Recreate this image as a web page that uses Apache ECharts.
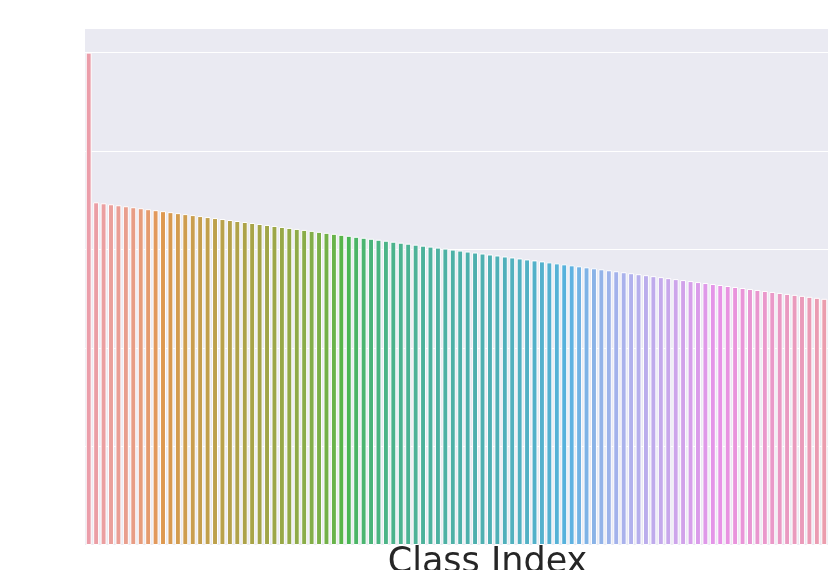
<!DOCTYPE html>
<html>
<head>
<meta charset="utf-8">
<script src="https://cdn.jsdelivr.net/npm/echarts@6/dist/echarts.min.js"></script>
<style>
html,body{margin:0;padding:0;background:#fff;}
#chart{width:830px;height:570px;}
</style>
</head>
<body>
<div id="chart"></div>
<script>
// ---- data ----
var categories = [
  '0','1','2','3','4','5','6','7','8','9',
  '10','11','12','13','14','15','16','17','18','19',
  '20','21','22','23','24','25','26','27','28','29',
  '30','31','32','33','34','35','36','37','38','39',
  '40','41','42','43','44','45','46','47','48','49',
  '50','51','52','53','54','55','56','57','58','59',
  '60','61','62','63','64','65','66','67','68','69',
  '70','71','72','73','74','75','76','77','78','79',
  '80','81','82','83','84','85','86','87','88','89',
  '90','91','92','93','94','95','96','97','98','99'
];
var values = [
  5.00,
  3.48,3.47,3.46,3.45,3.44,3.43,3.42,3.41,3.40,
  3.39,3.38,3.37,3.36,3.35,3.34,3.33,3.32,3.31,3.30,
  3.29,3.28,3.27,3.26,3.25,3.24,3.23,3.22,3.21,3.20,
  3.19,3.18,3.17,3.16,3.15,3.14,3.13,3.12,3.11,3.10,
  3.09,3.08,3.07,3.06,3.05,3.04,3.03,3.02,3.01,3.00,
  2.99,2.98,2.97,2.96,2.95,2.94,2.93,2.92,2.91,2.90,
  2.89,2.88,2.87,2.86,2.85,2.84,2.83,2.82,2.81,2.80,
  2.79,2.78,2.77,2.76,2.75,2.74,2.73,2.72,2.71,2.70,
  2.69,2.68,2.67,2.66,2.65,2.64,2.63,2.62,2.61,2.60,
  2.59,2.58,2.57,2.56,2.55,2.54,2.53,2.52,2.51,2.50
];
var xLabel = 'Class Index';

// ---- palette (seaborn-like husl, desaturated) ----
var M = [[3.2406,-1.5372,-0.4986],[-0.9689,1.8758,0.0415],[0.0557,-0.2040,1.0570]];
var refU = 0.19784, refV = 0.46834, labE = 0.008856, labK = 903.3;
function maxChroma(L, H) {
  var hr = H / 360 * 2 * Math.PI, sinH = Math.sin(hr), cosH = Math.cos(hr);
  var sub1 = Math.pow(L + 16, 3) / 1560896;
  var sub2 = sub1 > labE ? sub1 : L / labK;
  var result = Infinity;
  for (var i = 0; i < 3; i++) {
    var m1 = M[i][0], m2 = M[i][1], m3 = M[i][2];
    var top = (0.99915 * m1 + 1.05122 * m2 + 1.14460 * m3) * sub2;
    var rb = 0.86330 * m3 - 0.17266 * m2;
    var lb = 0.12949 * m3 - 0.38848 * m1;
    var bottom = (rb * sinH + lb * cosH) * sub2;
    for (var t = 0; t < 2; t++) {
      var C = L * (top - 1.05122 * t) / (bottom + 0.17266 * sinH * t);
      if (C > 0 && C < result) result = C;
    }
  }
  return result;
}
function fInv(t) { return Math.pow(t, 3) > labE ? Math.pow(t, 3) : (116 * t - 16) / labK; }
function fromLinear(c) { return c <= 0.0031308 ? 12.92 * c : 1.055 * Math.pow(c, 1 / 2.4) - 0.055; }
function huslToRgb(H, S, L) {
  var C = maxChroma(L, H) / 100 * S;
  var hr = H / 360 * 2 * Math.PI;
  var U = Math.cos(hr) * C, V = Math.sin(hr) * C;
  var varY = fInv((L + 16) / 116);
  var varU = U / (13 * L) + refU, varV = V / (13 * L) + refV;
  var Y = varY;
  var X = 0 - (9 * Y * varU) / ((varU - 4) * varV - varU * varV);
  var Z = (9 * Y - 15 * varV * Y - varV * X) / (3 * varV);
  var xyz = [X, Y, Z];
  return M.map(function (r) {
    var v = fromLinear(r[0] * xyz[0] + r[1] * xyz[1] + r[2] * xyz[2]);
    return Math.min(1, Math.max(0, v));
  });
}
function rgbToHls(r, g, b) {
  var mx = Math.max(r, g, b), mn = Math.min(r, g, b);
  var l = (mx + mn) / 2, h, s;
  if (mx === mn) return [0, l, 0];
  s = l <= 0.5 ? (mx - mn) / (mx + mn) : (mx - mn) / (2 - mx - mn);
  var rc = (mx - r) / (mx - mn), gc = (mx - g) / (mx - mn), bc = (mx - b) / (mx - mn);
  if (r === mx) h = bc - gc; else if (g === mx) h = 2 + rc - bc; else h = 4 + gc - rc;
  h = ((h / 6) % 1 + 1) % 1;
  return [h, l, s];
}
function v(m1, m2, hue) {
  hue = ((hue % 1) + 1) % 1;
  if (hue < 1 / 6) return m1 + (m2 - m1) * hue * 6;
  if (hue < 0.5) return m2;
  if (hue < 2 / 3) return m1 + (m2 - m1) * (2 / 3 - hue) * 6;
  return m1;
}
function hlsToRgb(h, l, s) {
  if (s === 0) return [l, l, l];
  var m2 = l <= 0.5 ? l * (1 + s) : l + s - l * s;
  var m1 = 2 * l - m2;
  return [v(m1, m2, h + 1 / 3), v(m1, m2, h), v(m1, m2, h - 1 / 3)];
}
function palette(n) {
  var out = [];
  for (var i = 0; i < n; i++) {
    var hue = ((i / n) + 0.01) % 1 * 359;
    var rgb = huslToRgb(hue, 0.9 * 99, 0.72 * 99);
    var hls = rgbToHls(rgb[0], rgb[1], rgb[2]);
    var d = hlsToRgb(hls[0], hls[1], hls[2] * 0.75);
    out.push('rgb(' + d.map(function (c) { return Math.round(c * 255); }).join(',') + ')');
  }
  return out;
}
var colors = palette(categories.length);

var chart = echarts.init(document.getElementById('chart'), null, { renderer: 'canvas' });
chart.setOption({
  animation: false,
  backgroundColor: '#ffffff',
  grid: {
    left: 85, right: 2, top: 28, bottom: 25,
    outerBoundsMode: 'none',
    containLabel: false,
    show: true, backgroundColor: '#EAEAF2', borderWidth: 0
  },
  xAxis: {
    type: 'category',
    data: categories,
    axisLine: { show: false },
    axisTick: { show: false },
    axisLabel: { show: false },
    splitLine: { show: false },
    name: xLabel,
    nameLocation: 'middle',
    nameGap: 0,
    nameTextStyle: {
      fontFamily: 'DejaVu Sans', fontSize: 35, color: '#262626',
      verticalAlign: 'top', padding: [0, 0, 0, 62]
    }
  },
  yAxis: {
    type: 'value',
    min: 0, max: 5.25, interval: 1,
    axisLine: { show: false },
    axisTick: { show: false },
    axisLabel: { show: false },
    splitLine: { show: true, lineStyle: { color: '#ffffff', width: 1.2 } }
  },
  series: [{
    type: 'bar',
    barCategoryGap: '20%',
    data: values.map(function (val, i) {
      return { value: val, itemStyle: { color: colors[i], borderColor: '#ffffff', borderWidth: 1 } };
    })
  }]
});
</script>
</body>
</html>
